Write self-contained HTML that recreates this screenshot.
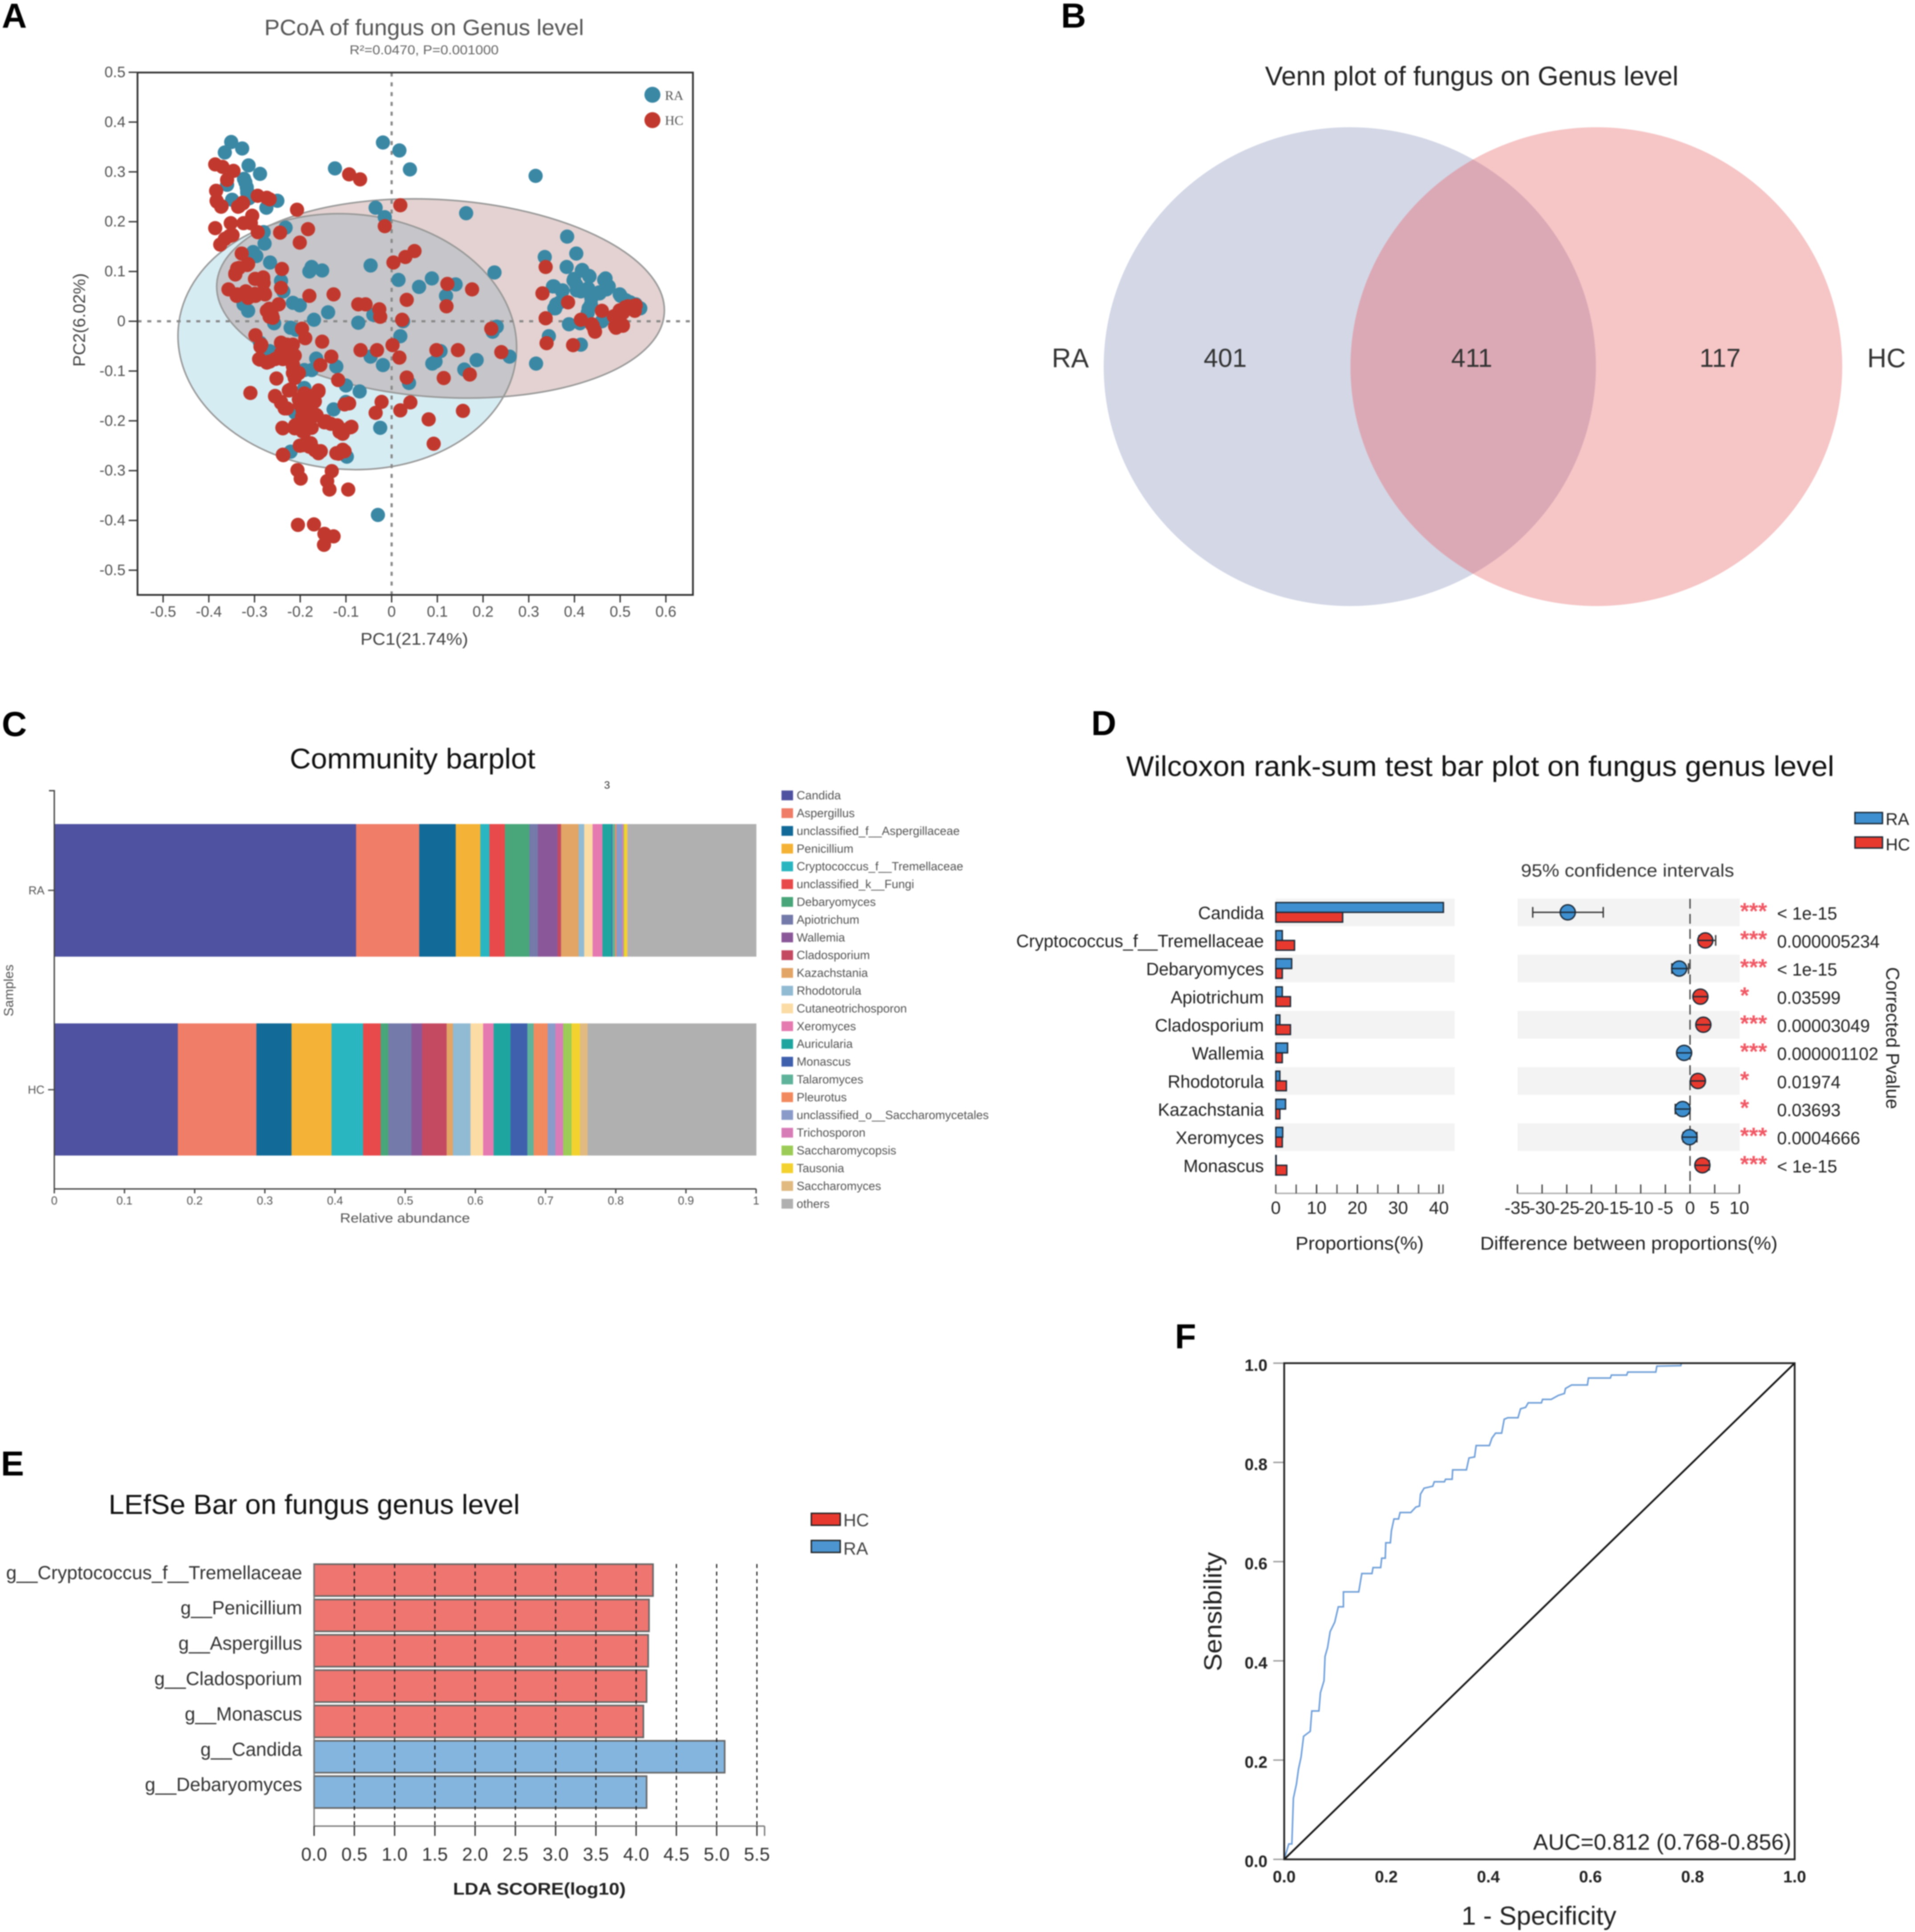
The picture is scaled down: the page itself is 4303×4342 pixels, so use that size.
<!DOCTYPE html>
<html lang="en">
<head>
<meta charset="utf-8">
<title>Fungal genus analysis figure</title>
<style>
html,body{margin:0;padding:0;background:#fff;width:4303px;height:4342px;overflow:hidden}
svg{display:block;filter:blur(1.2px)}
text{font-family:"Liberation Sans",Arial,sans-serif;fill:#222}
.panel{font-weight:700;font-size:78px;fill:#000}
</style>
</head>
<body>
<svg id="fig" xmlns="http://www.w3.org/2000/svg" width="4303" height="4342" viewBox="0 0 4303 4342">
<rect x="0" y="0" width="4303" height="4342" fill="#fff"/>
<text class="panel" x="4" y="62">A</text>
<text class="panel" x="2384" y="62">B</text>
<text class="panel" x="4" y="1654">C</text>
<text class="panel" x="2452" y="1652">D</text>
<text class="panel" x="2" y="3316">E</text>
<text class="panel" x="2640" y="3030">F</text>

<g id="pa">
<text x="953" y="62" font-size="50" text-anchor="middle" dominant-baseline="central" textLength="718" lengthAdjust="spacingAndGlyphs" style="fill:#555">PCoA of fungus on Genus level</text>
<text x="953" y="113" font-size="29" text-anchor="middle" dominant-baseline="central" textLength="335" lengthAdjust="spacingAndGlyphs" style="fill:#666">R²=0.0470, P=0.001000</text>
<text x="931" y="1437" font-size="38" text-anchor="middle" dominant-baseline="central" textLength="242" lengthAdjust="spacingAndGlyphs" style="fill:#444">PC1(21.74%)</text>
<text transform="translate(179 719) rotate(-90)" font-size="38" text-anchor="middle" dominant-baseline="central" textLength="210" lengthAdjust="spacingAndGlyphs" style="fill:#444">PC2(6.02%)</text>
<circle cx="1466" cy="213" r="18" fill="#3b88a5"/>
<text x="1494" y="215" font-size="30" dominant-baseline="central" style="font-family:'Liberation Serif',serif;fill:#555">RA</text>
<circle cx="1466" cy="270" r="18" fill="#c1392e"/>
<text x="1494" y="271" font-size="30" dominant-baseline="central" style="font-family:'Liberation Serif',serif;fill:#555">HC</text>
</g>

<g id="pb">
<text x="3307" y="171" font-size="60" text-anchor="middle" dominant-baseline="central" textLength="929" lengthAdjust="spacingAndGlyphs">Venn plot of fungus on Genus level</text>
<defs><clipPath id="vennClip"><ellipse cx="3033" cy="824" rx="553" ry="538"/></clipPath></defs>
<ellipse cx="3033" cy="824" rx="553" ry="538" fill="#d3d7e6"/>
<ellipse cx="3587" cy="824" rx="552.5" ry="538" fill="#f6c5c6"/>
<ellipse cx="3587" cy="824" rx="552.5" ry="538" fill="#dba9b5" clip-path="url(#vennClip)"/>
<text x="2405" y="805" font-size="60" text-anchor="middle" dominant-baseline="central" style="fill:#333">RA</text>
<text x="4239" y="805" font-size="60" text-anchor="middle" dominant-baseline="central" style="fill:#333">HC</text>
<text x="2753" y="805" font-size="58" text-anchor="middle" dominant-baseline="central" style="fill:#333">401</text>
<text x="3307" y="805" font-size="58" text-anchor="middle" dominant-baseline="central" style="fill:#333">411</text>
<text x="3865" y="805" font-size="58" text-anchor="middle" dominant-baseline="central" style="fill:#333">117</text>
</g>

<g id="pc">
<text x="927" y="1705" font-size="64" text-anchor="middle" dominant-baseline="central" textLength="552" lengthAdjust="spacingAndGlyphs" style="fill:#111">Community barplot</text>
<text x="1364" y="1765" font-size="24" text-anchor="middle" dominant-baseline="central" style="fill:#333">3</text>
<text x="910" y="2738" font-size="30" text-anchor="middle" dominant-baseline="central" textLength="292" lengthAdjust="spacingAndGlyphs" style="fill:#555">Relative abundance</text>
<text transform="translate(20 2226) rotate(-90)" font-size="30" text-anchor="middle" dominant-baseline="central" style="fill:#555">Samples</text>
</g>

<g id="pd">
<text x="3326" y="1722" font-size="64" text-anchor="middle" dominant-baseline="central" textLength="1591" lengthAdjust="spacingAndGlyphs" style="fill:#111">Wilcoxon rank-sum test bar plot on fungus genus level</text>
<text x="3657" y="1957" font-size="40" text-anchor="middle" dominant-baseline="central" textLength="479" lengthAdjust="spacingAndGlyphs" style="fill:#333">95% confidence intervals</text>
<rect x="4168" y="1826" width="62" height="25" fill="#3d8fcf" stroke="#1c2a38" stroke-width="3"/>
<text x="4237" y="1842" font-size="38" dominant-baseline="central" style="fill:#222">RA</text>
<rect x="4168" y="1881" width="62" height="25" fill="#e8392e" stroke="#1c2a38" stroke-width="3"/>
<text x="4237" y="1899" font-size="38" dominant-baseline="central" style="fill:#222">HC</text>
<text x="3055" y="2794" font-size="42" text-anchor="middle" dominant-baseline="central" textLength="288" lengthAdjust="spacingAndGlyphs" style="fill:#222">Proportions(%)</text>
<text x="3660" y="2794" font-size="42" text-anchor="middle" dominant-baseline="central" textLength="668" lengthAdjust="spacingAndGlyphs" style="fill:#222">Difference between proportions(%)</text>
<text transform="translate(4253 2333) rotate(90)" font-size="42" text-anchor="middle" dominant-baseline="central" textLength="319" lengthAdjust="spacingAndGlyphs" style="fill:#222">Corrected Pvalue</text>
</g>

<g id="pe">
<text x="706" y="3382" font-size="62" text-anchor="middle" dominant-baseline="central" textLength="924" lengthAdjust="spacingAndGlyphs" style="fill:#111">LEfSe Bar on fungus genus level</text>
<rect x="1823" y="3401" width="65" height="27" fill="#e8392e" stroke="#222" stroke-width="3"/>
<text x="1895" y="3417" font-size="40" dominant-baseline="central" style="fill:#444">HC</text>
<rect x="1823" y="3462" width="65" height="27" fill="#4c95d0" stroke="#222" stroke-width="3"/>
<text x="1895" y="3481" font-size="40" dominant-baseline="central" style="fill:#444">RA</text>
<text x="1212" y="4246" font-size="38" font-weight="700" text-anchor="middle" dominant-baseline="central" textLength="388" lengthAdjust="spacingAndGlyphs">LDA SCORE(log10)</text>
</g>

<g id="pf">
<text x="3458" y="4306" font-size="58" text-anchor="middle" dominant-baseline="central" textLength="348" lengthAdjust="spacingAndGlyphs" style="fill:#222">1 - Specificity</text>
<text transform="translate(2725 3622) rotate(-90)" font-size="56" text-anchor="middle" dominant-baseline="central" textLength="268" lengthAdjust="spacingAndGlyphs" style="fill:#222">Sensibility</text>
</g>
</svg>
<script>
// ---------- Panel A data (PCoA scores) ----------
const pcoaXTicks = [-0.5,-0.4,-0.3,-0.2,-0.1,0,0.1,0.2,0.3,0.4,0.5,0.6];
const pcoaYTicks = [0.5,0.4,0.3,0.2,0.1,0,-0.1,-0.2,-0.3,-0.4,-0.5];
const raPc1 = [-0.351,-0.365,-0.327,-0.313,-0.288,-0.323,-0.317,-0.360,-0.349,-0.250,-0.274,-0.316,-0.232,-0.280,-0.278,-0.303,-0.296,-0.266,-0.242,-0.237,-0.175,-0.180,-0.152,-0.046,0.015,0.060,0.088,0.140,0.119,0.225,-0.035,-0.015,-0.019,0.017,0.040,-0.124,0.163,0.315,0.384,0.335,0.404,0.383,0.417,0.432,0.399,0.404,0.414,0.434,0.465,0.470,0.455,0.501,0.522,0.542,0.355,0.373,0.358,0.368,0.436,0.429,0.388,0.412,0.460,0.344,0.414,0.316,0.258,0.221,0.230,0.186,0.159,0.096,0.089,0.107,-0.019,-0.046,0.019,0.025,-0.040,-0.073,-0.139,-0.170,-0.201,-0.216,-0.221,-0.209,-0.257,-0.314,-0.324,-0.288,-0.267,-0.165,-0.175,-0.191,-0.121,-0.100,-0.070,0.038,-0.191,-0.211,-0.127,-0.100,-0.025,-0.221,-0.098,-0.030,
0.398,0.416,0.433,0.405,0.430,0.437,0.431,0.454,0.468,0.475,0.499,0.513,0.534,0.544,0.353,0.374,0.360,0.356,-0.320,-0.316,-0.312];
const raPc2 = [0.360,0.339,0.347,0.313,0.296,0.286,0.269,0.274,0.244,0.242,0.228,0.261,0.188,0.179,0.156,0.139,0.131,0.118,0.081,0.060,0.109,0.100,0.102,0.112,0.083,0.069,0.086,0.074,0.051,0.098,0.228,0.209,0.359,0.343,0.305,0.307,0.217,0.292,0.170,0.129,0.136,0.109,0.103,0.091,0.085,0.073,0.060,0.056,0.083,0.064,0.056,0.051,0.038,0.026,0.070,0.060,0.026,0.038,0.034,0.017,-0.006,-0.004,0.000,-0.030,-0.047,-0.085,-0.071,-0.021,-0.011,-0.078,-0.097,-0.081,-0.085,-0.060,-0.088,-0.071,-0.030,0.000,0.013,-0.003,0.018,0.003,0.032,0.037,-0.013,-0.017,-0.004,0.021,0.034,-0.043,-0.060,-0.075,-0.098,-0.098,-0.091,-0.129,-0.141,-0.124,-0.134,-0.184,-0.177,-0.162,-0.214,-0.262,-0.272,-0.389,
0.082,0.102,0.090,0.062,0.066,0.046,0.026,0.058,0.086,0.070,0.054,0.042,0.034,0.026,0.070,0.062,0.034,0.026,0.279,0.258,0.247];
const hcPc1 = [-0.386,-0.370,-0.346,-0.360,-0.384,-0.383,-0.372,-0.334,-0.326,-0.293,-0.273,-0.267,-0.305,-0.352,-0.324,-0.308,-0.293,-0.386,-0.355,-0.365,-0.375,-0.207,-0.244,-0.183,-0.201,0.019,-0.015,-0.093,-0.069,0.050,0.030,0.004,-0.328,-0.314,-0.334,-0.342,-0.240,-0.357,-0.339,-0.319,-0.314,-0.298,-0.278,-0.298,-0.281,-0.280,-0.242,-0.247,-0.273,-0.262,-0.267,-0.180,-0.127,-0.073,-0.057,-0.027,-0.025,0.033,0.120,0.122,0.176,0.023,-0.298,-0.287,-0.288,-0.267,-0.242,-0.221,-0.242,-0.216,-0.216,-0.211,-0.206,-0.196,-0.189,-0.152,-0.132,-0.156,-0.117,-0.068,-0.032,0.002,0.017,0.033,0.114,0.098,0.145,0.171,0.240,0.218,-0.252,-0.309,-0.221,-0.255,-0.242,-0.234,-0.191,-0.160,-0.175,-0.191,-0.196,-0.180,-0.165,-0.201,-0.239,-0.191,-0.144,-0.119,-0.114,-0.088,-0.103,-0.093,-0.201,-0.180,-0.237,-0.160,-0.155,-0.121,-0.103,-0.206,-0.199,-0.131,-0.141,-0.136,-0.095,-0.205,-0.170,-0.147,-0.127,-0.148,-0.035,-0.022,0.019,0.041,0.081,0.156,0.092,0.337,0.330,0.386,0.337,0.339,0.397,0.414,0.440,0.445,0.460,0.488,0.506,0.522,0.511,0.527,0.532,0.496,0.491,0.506,-0.201,-0.180,-0.191,-0.211,-0.175,
-0.290,-0.285,-0.273,-0.255,-0.242,-0.229,-0.216,-0.242,-0.225,-0.212,-0.238,-0.216,-0.216,-0.203,-0.212,
-0.225,-0.255,-0.242,-0.229,-0.203,-0.186,-0.177,-0.160,-0.168,-0.195,-0.177,-0.164,-0.195,-0.203,-0.195,-0.212,-0.238,-0.147,-0.133,-0.116,-0.107,-0.090,-0.195,-0.177,-0.168,-0.160,-0.116,-0.107,-0.238,
-0.336,-0.325,-0.382,-0.373,-0.348,-0.364,-0.338,-0.342,-0.316,-0.299,-0.281,-0.338,-0.319,-0.299,-0.277,-0.268,-0.260,-0.247,
0.517,0.534,0.499,0.486,0.489,0.506,0.444,0.438];
const hcPc2 = [0.315,0.310,0.302,0.284,0.262,0.242,0.231,0.231,0.238,0.252,0.248,0.245,0.212,0.197,0.197,0.197,0.179,0.187,0.171,0.165,0.154,0.224,0.178,0.185,0.158,0.233,0.191,0.295,0.285,0.141,0.129,0.118,0.136,0.115,0.107,0.094,0.105,0.064,0.051,0.060,0.047,0.051,0.056,0.085,0.085,0.077,0.067,0.034,0.021,0.013,0.009,0.051,0.054,0.034,0.034,0.024,0.009,0.043,0.030,0.075,0.064,0.003,-0.028,-0.051,-0.077,-0.081,-0.043,-0.049,-0.064,-0.068,-0.090,-0.107,-0.103,-0.015,-0.034,-0.041,-0.071,-0.088,-0.118,-0.058,-0.058,-0.048,-0.073,-0.113,-0.114,-0.058,-0.058,-0.107,-0.062,-0.015,-0.115,-0.144,-0.137,-0.151,-0.162,-0.175,-0.145,-0.141,-0.162,-0.175,-0.192,-0.188,-0.188,-0.214,-0.214,-0.222,-0.201,-0.209,-0.222,-0.212,-0.167,-0.165,-0.250,-0.252,-0.269,-0.265,-0.261,-0.265,-0.261,-0.299,-0.316,-0.301,-0.321,-0.338,-0.338,-0.409,-0.408,-0.427,-0.432,-0.449,-0.184,-0.162,-0.179,-0.163,-0.197,-0.180,-0.246,0.109,0.056,0.038,0.006,-0.044,-0.048,0.003,-0.009,-0.021,0.021,0.009,0.017,0.026,0.028,0.030,0.021,0.009,-0.013,-0.009,-0.167,-0.162,-0.196,-0.209,-0.214,
-0.076,-0.047,-0.083,-0.076,-0.044,-0.047,-0.047,-0.065,-0.065,-0.069,-0.076,-0.087,-0.104,-0.104,-0.114,
-0.139,-0.150,-0.164,-0.175,-0.157,-0.164,-0.150,-0.139,-0.161,-0.178,-0.181,-0.189,-0.196,-0.206,-0.221,-0.215,-0.215,-0.203,-0.206,-0.213,-0.226,-0.213,-0.249,-0.245,-0.259,-0.263,-0.266,-0.258,-0.268,
0.230,0.237,0.240,0.230,0.173,0.166,0.106,0.096,0.113,0.085,0.088,0.054,0.060,0.055,0.054,0.025,0.007,0.034,
0.030,0.032,0.022,0.010,-0.010,-0.008,-0.018,-0.006];
// ellipse centre (PC1, PC2), semi-axes (PC1 units, PC2 units)
const raEllipse = [-0.097,-0.041,0.371,0.2563];
const hcEllipse = [0.107,0.0458,0.4906,0.1983];

// ---------- Panel C data (relative abundance) ----------
const genera = ["Candida","Aspergillus","unclassified_f__Aspergillaceae","Penicillium","Cryptococcus_f__Tremellaceae","unclassified_k__Fungi","Debaryomyces","Apiotrichum","Wallemia","Cladosporium","Kazachstania","Rhodotorula","Cutaneotrichosporon","Xeromyces","Auricularia","Monascus","Talaromyces","Pleurotus","unclassified_o__Saccharomycetales","Trichosporon","Saccharomycopsis","Tausonia","Saccharomyces","others"];
const raAbundance = [.430,.090,.052,.035,.013,.022,.035,.012,.028,.005,.025,.008,.012,.014,.013,.001,.004,.002,.008,.002,.001,.004,.001,.183];
const hcAbundance = [.176,.112,.050,.057,.045,.025,.011,.033,.015,.035,.009,.025,.018,.015,.024,.024,.009,.020,.011,.011,.012,.012,.011,.240];
const sampleNames = ["RA","HC"];
const abundanceTicks = ["0","0.1","0.2","0.3","0.4","0.5","0.6","0.7","0.8","0.9","1"];
const genusColors = ["#4f52a0","#ef7d67","#126a98","#f4b336","#29b6c0","#e84a4b","#49a67a","#747aa9","#8a5898","#c44a62","#e2a566","#91bad3","#fbdca5","#e47ab0","#1fa59f","#3f60ad","#5fb39a","#f28a60","#8a9bc9","#d87cb7","#9ccc57","#f3d230","#e0ba80","#b0b0b0"];

// ---------- Panel D data (Wilcoxon test) ----------
const testGenera = ["Candida","Cryptococcus_f__Tremellaceae","Debaryomyces","Apiotrichum","Cladosporium","Wallemia","Rhodotorula","Kazachstania","Xeromyces","Monascus"];
const testRa = [41.1,1.6,3.9,1.6,1.0,2.9,1.0,2.4,1.7,0.1];
const testHc = [16.4,4.6,1.6,3.6,3.6,1.6,2.6,1.0,1.6,2.7];
const testDiff = [-24.8,3.1,-2.2,2.1,2.7,-1.2,1.6,-1.5,-0.1,2.5];
const testLow = [-31.9,1.8,-3.7,1.0,1.5,-2.3,0.6,-3.0,-1.4,1.3];
const testHigh = [-17.6,5.2,-0.3,3.0,3.9,-0.2,2.8,-0.2,1.4,3.9];
const testStars = ["***","***","***","*","***","***","*","*","***","***"];
const testPvalues = ["< 1e-15","0.000005234","< 1e-15","0.03599","0.00003049","0.000001102","0.01974","0.03693","0.0004666","< 1e-15"];
const propTicks = [0,5,10,15,20,25,30,35,40,41];
const propTickLabels = [0,10,20,30,40];
const diffTicks = [-35,-30,-25,-20,-15,-10,-5,0,5,10];

// ---------- Panel E data (LEfSe) ----------
const ldaGenera = ["g__Cryptococcus_f__Tremellaceae","g__Penicillium","g__Aspergillus","g__Cladosporium","g__Monascus","g__Candida","g__Debaryomyces"];
const ldaScores = [4.21,4.16,4.15,4.13,4.09,5.10,4.13];
const ldaGroups = ["HC","HC","HC","HC","HC","RA","RA"];
const ldaTicks = ["0.0","0.5","1.0","1.5","2.0","2.5","3.0","3.5","4.0","4.5","5.0","5.5"];

// ---------- Panel F data (ROC) ----------
const rocFpr = [0,.009,.015,.018,.024,.028,.033,.038,.051,.054,.068,.071,.078,.080,.085,.090,.099,.106,.116,.116,.146,.152,.172,.174,.189,.191,.198,.199,.208,.210,.215,.224,.227,.248,.258,.265,.267,.274,.291,.294,.314,.316,.329,.330,.357,.362,.373,.376,.402,.407,.414,.426,.431,.438,.458,.463,.473,.478,.504,.506,.523,.537,.549,.551,.563,.594,.596,.639,.641,.671,.673,.728,.730,.777,.778];
const rocTpr = [0,.031,.031,.123,.152,.182,.206,.248,.258,.299,.299,.336,.360,.409,.427,.459,.478,.509,.509,.539,.539,.576,.576,.588,.588,.607,.607,.638,.638,.662,.686,.686,.699,.699,.710,.712,.736,.748,.752,.761,.761,.766,.766,.785,.785,.809,.811,.834,.834,.849,.859,.859,.887,.890,.890,.908,.911,.920,.920,.927,.927,.935,.939,.949,.956,.956,.970,.970,.976,.976,.982,.982,.994,.995,1];
const rocTicks = ["0.0","0.2","0.4","0.6","0.8","1.0"];
const aucLabel = "AUC=0.812 (0.768-0.856)";

// ---------- helpers ----------
const NS = "http://www.w3.org/2000/svg";
function mk(parent, tag, attrs, txt){
  const el = document.createElementNS(NS, tag);
  for (const k in attrs) el.setAttribute(k, attrs[k]);
  if (txt !== undefined) el.textContent = txt;
  parent.appendChild(el);
  return el;
}
const pa = document.getElementById('pa'), pc = document.getElementById('pc'), pd = document.getElementById('pd'), pe = document.getElementById('pe'), pf = document.getElementById('pf');

// ---------- Panel A ----------
(function(){
  const xA = v => 880 + v * 1027;
  const yA = v => 722 - v * 1119;
  const ell = (p, rot) => ({cx:xA(p[0]), cy:yA(p[1]), rx:p[2]*1027, ry:p[3]*1119, transform:`rotate(${rot} ${xA(p[0])} ${yA(p[1])})`});
  const defs = mk(pa,'defs',{});
  const clip = mk(defs,'clipPath',{id:'pcoaClip'});
  mk(clip,'ellipse',ell(raEllipse,4.73));
  let e = mk(pa,'ellipse',Object.assign(ell(raEllipse,4.73),{fill:'#d6ecf3'}));
  
  
  e = mk(pa,'ellipse',Object.assign(ell(hcEllipse,3.77),{fill:'#e3d2d1'}));
  
  
  const ov = mk(pa,'g',{'clip-path':'url(#pcoaClip)'});
  
  
  mk(ov,'ellipse',Object.assign(ell(hcEllipse,3.77),{fill:'#c6c5c9'}));
  mk(pa,'ellipse',Object.assign(ell(raEllipse,4.73),{fill:'none',stroke:'#999',"stroke-width":3.5}));
  mk(pa,'ellipse',Object.assign(ell(hcEllipse,3.77),{fill:'none',stroke:'#999',"stroke-width":3.5}));
  let r = mk(pa,'line',{x1:309,x2:1557,y1:yA(0),y2:yA(0),stroke:'#8a8a8a','stroke-width':5,'stroke-dasharray':'9 13'});
  
  
  r = mk(pa,'line',{x1:xA(0),x2:xA(0),y1:163,y2:1337,stroke:'#8a8a8a','stroke-width':5,'stroke-dasharray':'9 13'});
  
  
  raPc1.forEach((v,i)=>{
    const c = mk(pa,'circle',{cx:xA(v),cy:yA(raPc2[i]),r:16,fill:'#3b88a5'});
    
    
  });
  hcPc1.forEach((v,i)=>{
    const c = mk(pa,'circle',{cx:xA(v),cy:yA(hcPc2[i]),r:16,fill:'#c1392e'});
    
    
  });
  r = mk(pa,'rect',{x:309,y:163,width:1248,height:1174,fill:'none',stroke:'#333','stroke-width':4});
  
  
  pcoaXTicks.forEach(v=>{
    const t = mk(pa,'line',{x1:xA(v),x2:xA(v),y1:1337,y2:1354,stroke:'#333','stroke-width':3});
    
    
    const l = mk(pa,'text',{x:xA(v),y:1375,'font-size':34,'text-anchor':'middle','dominant-baseline':'central',style:'fill:#555'},String(v));
    
    
  });
  pcoaYTicks.forEach(v=>{
    const t = mk(pa,'line',{x1:289,x2:309,y1:yA(v),y2:yA(v),stroke:'#333','stroke-width':3});
    
    
    const l = mk(pa,'text',{x:282,y:yA(v),'font-size':34,'text-anchor':'end','dominant-baseline':'central',style:'fill:#555'},String(v));
    
    
  });
})();

// ---------- Panel C ----------
(function(){
  const xC = v => 122 + v * 1577;
  const rows = [[raAbundance,1852,2150,2001],[hcAbundance,2300,2597,2449]];
  rows.forEach((row,ri)=>{
    let acc = 0;
    row[0].forEach((v,i)=>{
      const b = mk(pc,'rect',{x:xC(acc),y:row[1],width:v*1577+0.6,height:row[2]-row[1],fill:genusColors[i]});
      
      
      acc += v;
    });
    const t = mk(pc,'line',{x1:108,x2:122,y1:row[3],y2:row[3],stroke:'#555','stroke-width':3});
    
    
    const l = mk(pc,'text',{x:100,y:row[3],'font-size':26,'text-anchor':'end','dominant-baseline':'central',style:'fill:#555'},sampleNames[ri]);
    
    
  });
  let a = mk(pc,'path',{d:'M110 1777H122V2672H1699',fill:'none',stroke:'#444','stroke-width':3});
  
  
  abundanceTicks.forEach(s=>{
    const v = parseFloat(s);
    const t = mk(pc,'line',{x1:xC(v),x2:xC(v),y1:2672,y2:2682,stroke:'#444','stroke-width':3});
    
    
    const l = mk(pc,'text',{x:xC(v),y:2698,'font-size':26,'text-anchor':'middle','dominant-baseline':'central',style:'fill:#555'},s);
    
    
  });
  genera.forEach((g,i)=>{
    const y = 1787.6 + i * 39.9;
    const sw = mk(pc,'rect',{x:1756,y:y-11,width:26,height:22,fill:genusColors[i]});
    
    
    const l = mk(pc,'text',{x:1790,y:y,'font-size':26.7,'dominant-baseline':'central',style:'fill:#555'},g);
    
    
  });
})();

// ---------- Panel D ----------
(function(){
  const xP = v => 2866.7 + v * 9.165;
  const xD = v => 3797.5 + v * 11.08;
  const rowY = i => 2050.4 + i * 63.16;
  testGenera.forEach((g,i)=>{
    if (i % 2 === 0){
      const b1 = mk(pd,'rect',{x:2866.7,y:rowY(i)-31,width:402,height:62,fill:'#f3f3f3'});
      
      
      const b2 = mk(pd,'rect',{x:3410,y:rowY(i)-31,width:499,height:62,fill:'#f3f3f3'});
      
      
    }
  });
  const z = mk(pd,'line',{x1:xD(0),x2:xD(0),y1:2020,y2:2660,stroke:'#444','stroke-width':3,'stroke-dasharray':'22 12'});
  
  
  testGenera.forEach((g,i)=>{
    const y = rowY(i);
    const l = mk(pd,'text',{x:2840,y:y+2,'font-size':39.7,'text-anchor':'end','dominant-baseline':'central',style:'fill:#222'},g);
    
    
    const br = mk(pd,'rect',{x:xP(0),y:y-22,width:testRa[i]*9.165,height:22,fill:'#3d8fcf',stroke:'#1c2a38','stroke-width':3});
    
    
    const bh = mk(pd,'rect',{x:xP(0),y:y,width:testHc[i]*9.165,height:22,fill:'#e8392e',stroke:'#1c2a38','stroke-width':3});
    
    
    const ci = mk(pd,'path',{d:`M${xD(testLow[i])} ${y-12}v24M${xD(testLow[i])} ${y}H${xD(testHigh[i])}M${xD(testHigh[i])} ${y-12}v24`,fill:'none',stroke:'#333','stroke-width':3});
    
    
    const dot = mk(pd,'circle',{cx:xD(testDiff[i]),cy:y,r:17,fill:testDiff[i]<0?'#3d8fcf':'#e8392e',stroke:'#1c2a38','stroke-width':3});
    
    
    const ln = mk(pd,'line',{x1:xD(testDiff[i])-17,x2:xD(testDiff[i])+17,y1:y,y2:y,stroke:'#1c2a38','stroke-width':3});
    
    
    const st = mk(pd,'text',{x:3910,y:y+15,'font-size':52,'font-weight':700,style:'fill:#ef5a66'},testStars[i]);
    
    
    const pv = mk(pd,'text',{x:3993,y:y+3,'font-size':39.5,'dominant-baseline':'central',style:'fill:#222'},testPvalues[i]);
    
    
  });
  let ax = mk(pd,'line',{x1:xP(0),x2:xP(41),y1:2682,y2:2682,stroke:'#aaa','stroke-width':3});
  
  
  propTicks.forEach(v=>{
    const t = mk(pd,'line',{x1:xP(v),x2:xP(v),y1:2662,y2:2682,stroke:v%10===0&&v!==0?'#333':'#555','stroke-width':3});
    
    
  });
  propTickLabels.forEach(v=>{
    const l = mk(pd,'text',{x:xP(v),y:2715,'font-size':40,'text-anchor':'middle','dominant-baseline':'central',style:'fill:#222'},String(v));
    
    
  });
  ax = mk(pd,'line',{x1:xD(-35),x2:xD(10),y1:2682,y2:2682,stroke:'#aaa','stroke-width':3});
  
  
  diffTicks.forEach(v=>{
    const t = mk(pd,'line',{x1:xD(v),x2:xD(v),y1:2662,y2:2682,stroke:'#444','stroke-width':3});
    
    
    const l = mk(pd,'text',{x:xD(v),y:2715,'font-size':40,'text-anchor':'middle','dominant-baseline':'central',style:'fill:#222'},String(v));
    
    
  });
})();

// ---------- Panel E ----------
(function(){
  const xL = v => 705.8 + v * 180.9;
  const labelYs = i => 3515.3 + i * 79.4;
  ldaGenera.forEach((g,i)=>{
    const y = labelYs(i);
    const b = mk(pe,'rect',{x:xL(0),y:y,width:ldaScores[i]*180.9,height:71.7,fill:ldaGroups[i]==='HC'?'#ee7570':'#84b5de',stroke:'#666','stroke-width':3.5});
    
    
    const l = mk(pe,'text',{x:679,y:y+19,'font-size':42.4,'text-anchor':'end','dominant-baseline':'central',style:'fill:#333'},g);
    
    
  });
  let a = mk(pe,'path',{d:`M${xL(0)} 3515V4104H1718`,fill:'none',stroke:'#777','stroke-width':3});
  
  
  ldaTicks.forEach(s=>{
    const v = parseFloat(s);
    if (v > 0){
      const g = mk(pe,'line',{x1:xL(v),x2:xL(v),y1:3515,y2:4104,stroke:'#111','stroke-width':2.5,'stroke-dasharray':'9 8'});
      
      
    }
    const t = mk(pe,'line',{x1:xL(v),x2:xL(v),y1:4104,y2:4126,stroke:'#333','stroke-width':3});
    
    
    const l = mk(pe,'text',{x:xL(v),y:4167,'font-size':42,'text-anchor':'middle','dominant-baseline':'central',style:'fill:#333'},s);
    
    
  });
  const endT = mk(pe,'line',{x1:1718,x2:1718,y1:4104,y2:4126,stroke:'#777','stroke-width':3});
  
  
})();

// ---------- Panel F ----------
(function(){
  const xF = v => 2885.6 + v * 1147;
  const yF = v => 4178.7 - v * 1115.1;
  rocTicks.forEach(s=>{
    const v = parseFloat(s);
    const t = mk(pf,'line',{x1:2861,x2:xF(0),y1:yF(v),y2:yF(v),stroke:'#999','stroke-width':3});
    
    
    const l = mk(pf,'text',{x:2848,y:yF(v)+5,'font-size':37,'font-weight':700,'text-anchor':'end','dominant-baseline':'central',style:'fill:#222'},s);
    
    
    const m = mk(pf,'text',{x:xF(v),y:4218,'font-size':37,'font-weight':700,'text-anchor':'middle','dominant-baseline':'central',style:'fill:#222'},s);
    
    
  });
  const curve = mk(pf,'polyline',{points:rocFpr.map((v,i)=>xF(v)+','+yF(rocTpr[i])).join(' '),fill:'none',stroke:'#6f9fd8','stroke-width':3.5});
  
  
  const diag = mk(pf,'line',{x1:xF(0),y1:yF(0),x2:xF(1),y2:yF(1),stroke:'#111','stroke-width':4});
  
  
  const box = mk(pf,'rect',{x:xF(0),y:yF(1),width:1147,height:1115.1,fill:'none',stroke:'#222','stroke-width':4});
  
  
  const auc = mk(pf,'text',{x:4025,y:4140,'font-size':50,'text-anchor':'end','dominant-baseline':'central',textLength:580,lengthAdjust:'spacingAndGlyphs',style:'fill:#222'},aucLabel);
  
  
})();
</script>
</body>
</html>
